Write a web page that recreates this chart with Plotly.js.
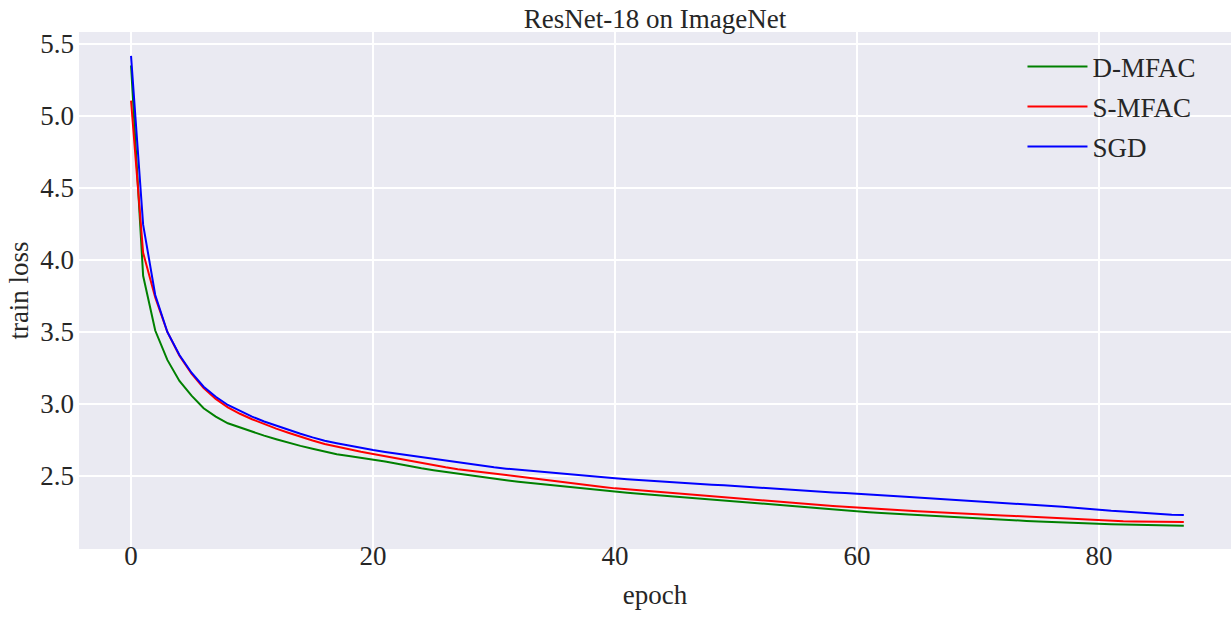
<!DOCTYPE html>
<html>
<head>
<meta charset="utf-8">
<script src="https://cdn.plot.ly/plotly-3.0.1.min.js"></script>
<style>
  html, body { margin: 0; padding: 0; background: #ffffff; }
  #chart { width: 1231px; height: 617px; }
</style>
</head>
<body>
<div id="chart"></div>
<script>
// Training loss per epoch for ResNet-18 on ImageNet
const epochs = Array.from({length: 88}, (_, i) => i);

const dmfacLoss = [
  5.350, 3.890, 3.510, 3.306, 3.160, 3.058, 2.970, 2.912, 2.866, 2.836,
  2.808, 2.780, 2.755, 2.731, 2.709, 2.689, 2.669, 2.651, 2.639, 2.627,
  2.616, 2.600, 2.585, 2.568, 2.553, 2.540, 2.528, 2.517, 2.503, 2.490,
  2.480, 2.470, 2.460, 2.451, 2.442, 2.433, 2.424, 2.415, 2.407, 2.399,
  2.391, 2.384, 2.377, 2.370, 2.363, 2.356, 2.350, 2.343, 2.336, 2.329,
  2.322, 2.316, 2.309, 2.302, 2.295, 2.287, 2.281, 2.274, 2.267, 2.259,
  2.252, 2.248, 2.243, 2.238, 2.233, 2.228, 2.223, 2.218, 2.213, 2.209,
  2.204, 2.200, 2.196, 2.192, 2.188, 2.184, 2.180, 2.177, 2.174, 2.171,
  2.167, 2.165, 2.163, 2.161, 2.160, 2.158, 2.157, 2.155
];

const smfacLoss = [
  5.106, 4.050, 3.740, 3.500, 3.335, 3.210, 3.110, 3.035, 2.977, 2.932,
  2.894, 2.860, 2.829, 2.800, 2.772, 2.746, 2.722, 2.703, 2.685, 2.668,
  2.653, 2.637, 2.623, 2.605, 2.588, 2.573, 2.560, 2.547, 2.538, 2.530,
  2.518, 2.507, 2.496, 2.485, 2.474, 2.463, 2.452, 2.443, 2.433, 2.423,
  2.414, 2.407, 2.400, 2.393, 2.386, 2.379, 2.372, 2.365, 2.358, 2.351,
  2.344, 2.337, 2.330, 2.323, 2.316, 2.309, 2.302, 2.297, 2.291, 2.286,
  2.280, 2.275, 2.270, 2.265, 2.260, 2.256, 2.251, 2.247, 2.243, 2.238,
  2.234, 2.230, 2.226, 2.222, 2.218, 2.214, 2.209, 2.205, 2.200, 2.195,
  2.190, 2.188, 2.186, 2.184, 2.183, 2.182, 2.181, 2.180
];

const sgdLoss = [
  5.417, 4.245, 3.757, 3.500, 3.340, 3.217, 3.120, 3.050, 2.993, 2.950,
  2.912, 2.878, 2.848, 2.819, 2.793, 2.768, 2.745, 2.728, 2.711, 2.695,
  2.680, 2.667, 2.655, 2.642, 2.630, 2.619, 2.606, 2.595, 2.580, 2.569,
  2.560, 2.551, 2.543, 2.535, 2.527, 2.520, 2.512, 2.505, 2.498, 2.491,
  2.484, 2.478, 2.472, 2.466, 2.460, 2.455, 2.450, 2.445, 2.440, 2.435,
  2.429, 2.423, 2.417, 2.411, 2.405, 2.399, 2.394, 2.390, 2.386, 2.382,
  2.378, 2.373, 2.367, 2.361, 2.356, 2.351, 2.346, 2.341, 2.336, 2.331,
  2.326, 2.320, 2.315, 2.309, 2.303, 2.297, 2.291, 2.286, 2.280, 2.272,
  2.264, 2.259, 2.254, 2.248, 2.241, 2.235, 2.231, 2.229
];

const seriesNames = ['D-MFAC', 'S-MFAC', 'SGD'];
const xTicks = [0, 20, 40, 60, 80];
const yTicks = [2.5, 3.0, 3.5, 4.0, 4.5, 5.0, 5.5];
const yTickText = ['2.5', '3.0', '3.5', '4.0', '4.5', '5.0', '5.5'];

const serif = "'Liberation Serif', 'Times New Roman', serif";
const textColor = '#262626';

const traces = [
  { x: epochs, y: dmfacLoss, name: seriesNames[0], color: '#008000' },
  { x: epochs, y: smfacLoss, name: seriesNames[1], color: '#ff0000' },
  { x: epochs, y: sgdLoss,   name: seriesNames[2], color: '#0000ff' }
].map(s => ({
  type: 'scatter',
  mode: 'lines',
  x: s.x,
  y: s.y,
  name: s.name,
  legendgroup: s.name,
  line: { color: s.color, width: 2 },
  hoverinfo: 'x+y+name'
}));

const layout = {
  width: 1231,
  height: 617,
  paper_bgcolor: '#ffffff',
  plot_bgcolor: '#eaeaf2',
  margin: { l: 79, r: 0, t: 32, b: 68, pad: 0 },
  font: { family: serif, size: 27, color: textColor },
  title: {
    text: 'ResNet-18 on ImageNet',
    font: { family: serif, size: 27, color: textColor },
    x: 0.5,
    xref: 'paper',
    xanchor: 'center',
    y: 0.97,
    yref: 'container',
    yanchor: 'middle'
  },
  xaxis: {
    range: [-4.3, 90.9],
    tickvals: xTicks,
    ticktext: xTicks.map(String),
    showgrid: true,
    gridcolor: '#ffffff',
    gridwidth: 1.5,
    zeroline: false,
    showline: false,
    ticks: '',
    ticklabelstandoff: -12,
    tickfont: { family: serif, size: 27, color: textColor },
    title: {
      text: 'epoch',
      font: { family: serif, size: 27, color: textColor },
      standoff: 15
    }
  },
  yaxis: {
    range: [1.993, 5.583],
    tickvals: yTicks,
    ticktext: yTickText,
    showgrid: true,
    gridcolor: '#ffffff',
    gridwidth: 1.5,
    zeroline: false,
    showline: false,
    ticks: '',
    ticklabelstandoff: 4,
    tickfont: { family: serif, size: 27, color: textColor },
    title: {
      text: 'train loss',
      font: { family: serif, size: 27, color: textColor },
      standoff: 3
    }
  },
  legend: {
    x: 0.819,
    y: 0.98,
    xanchor: 'left',
    yanchor: 'top',
    bgcolor: 'rgba(0,0,0,0)',
    borderwidth: 0,
    itemwidth: 60,
    tracegroupgap: 2,
    font: { family: serif, size: 27, color: textColor }
  },
  showlegend: true
};

Plotly.newPlot('chart', traces, layout, { displayModeBar: false, staticPlot: true });
</script>
</body>
</html>
